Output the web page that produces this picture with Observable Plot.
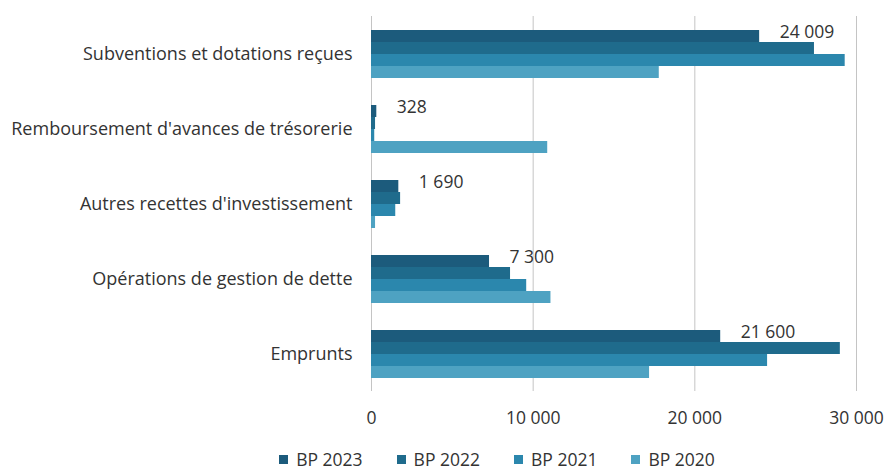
<!DOCTYPE html>
<html>
<head>
<meta charset="utf-8">
<script src="https://cdn.jsdelivr.net/npm/d3@7"></script>
<script src="https://cdn.jsdelivr.net/npm/@observablehq/plot@0.6"></script>
<style>
  html, body { margin: 0; padding: 0; background: #fff; }
  body { width: 890px; height: 473px; overflow: hidden; font-family: "Open Sans", Lato, sans-serif; color: #333; }
  #legend { display: flex; justify-content: center; align-items: center; gap: 34px; padding-left: 104px; width: 786px; height: 24px; margin-top: 7px; font-size: 17.5px; color: #333; }
  #legend .item { display: flex; align-items: center; gap: 8px; }
  #legend .sw { width: 9px; height: 9px; display: inline-block; }
</style>
</head>
<body>
<div id="chart"></div>
<div id="legend"></div>
<script>
const categories = [
  "Subventions et dotations reçues",
  "Remboursement d'avances de trésorerie",
  "Autres recettes d'investissement",
  "Opérations de gestion de dette",
  "Emprunts"
];
const series = ["BP 2023", "BP 2022", "BP 2021", "BP 2020"];
const bp2023 = [24009, 328, 1690, 7300, 21600];
const bp2022 = [27400, 250, 1800, 8600, 29000];
const bp2021 = [29300, 200, 1500, 9600, 24500];
const bp2020 = [17800, 10900, 250, 11100, 17200];
const xTicks = [0, 10000, 20000, 30000];
const colors = ["#1c5b7c", "#1f6b8c", "#2b87ad", "#4ea2c2"];

const fr = d3.formatLocale({decimal: ",", thousands: "\u00a0", grouping: [3], currency: ["", " €"]});
const fmt = fr.format(",d");

const valuesBySeries = [bp2023, bp2022, bp2021, bp2020];
const rows = [];
series.forEach((s, si) => {
  categories.forEach((c, ci) => rows.push({category: c, series: s, value: valuesBySeries[si][ci]}));
});
const labels = rows.filter(d => d.series === "BP 2023");

const plot = Plot.plot({
  width: 890,
  height: 440,
  marginLeft: 371,
  marginRight: 34,
  marginTop: 15,
  marginBottom: 48,
  style: {fontFamily: "'Open Sans', Lato, sans-serif", fontSize: "18px", color: "#333"},
  fy: {domain: categories, padding: 0, label: null},
  y: {domain: series, paddingInner: 0, paddingOuter: 0.96, axis: null},
  x: {domain: [0, 30000], label: null},
  color: {domain: series, range: colors},
  marks: [
    Plot.gridX(xTicks, {stroke: "#c4c4c4", strokeOpacity: 1, strokeWidth: 1}),
    Plot.barX(rows, {fy: "category", y: "series", x: "value", fill: "series"}),
    Plot.text(labels, {fy: "category", y: "series", x: "value", text: d => fmt(d.value), textAnchor: "start", dx: 20, dy: -4, fill: "#333", fontSize: 17.5}),
    Plot.axisFy({anchor: "left", tickSize: 0, tickPadding: 19, label: null, fontSize: 18}),
    Plot.axisX(xTicks, {tickSize: 0, tickPadding: 20, tickFormat: fmt, label: null, fontSize: 17.5})
  ]
});
document.getElementById("chart").appendChild(plot);

const legend = document.getElementById("legend");
series.forEach((s, i) => {
  const item = document.createElement("div");
  item.className = "item";
  const sw = document.createElement("span");
  sw.className = "sw";
  sw.style.background = colors[i];
  const t = document.createElement("span");
  t.textContent = s;
  item.appendChild(sw);
  item.appendChild(t);
  legend.appendChild(item);
});
</script>
</body>
</html>
